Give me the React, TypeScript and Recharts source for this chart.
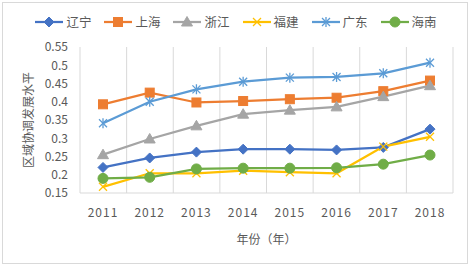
import React from 'react';
import { LineChart, Line, XAxis, YAxis, CartesianGrid, Label } from 'recharts';

const years = ['2011', '2012', '2013', '2014', '2015', '2016', '2017', '2018'];
const liaoning = [0.22, 0.246, 0.262, 0.27, 0.27, 0.268, 0.275, 0.325];
const shanghai = [0.393, 0.425, 0.398, 0.402, 0.407, 0.411, 0.429, 0.458];
const zhejiang = [0.255, 0.298, 0.334, 0.366, 0.377, 0.386, 0.414, 0.444];
const fujian = [0.167, 0.204, 0.204, 0.211, 0.207, 0.204, 0.277, 0.304];
const guangdong = [0.341, 0.4, 0.434, 0.455, 0.466, 0.468, 0.478, 0.507];
const hainan = [0.19, 0.193, 0.216, 0.218, 0.218, 0.219, 0.229, 0.254];
const yTicks = [0.15, 0.2, 0.25, 0.3, 0.35, 0.4, 0.45, 0.5, 0.55];

const series = [
  { key: 'liaoning', name: '辽宁', color: '#4472C4', shape: 'diamond', values: liaoning },
  { key: 'shanghai', name: '上海', color: '#ED7D31', shape: 'square', values: shanghai },
  { key: 'zhejiang', name: '浙江', color: '#A5A5A5', shape: 'triangle', values: zhejiang },
  { key: 'fujian', name: '福建', color: '#FFC000', shape: 'x', values: fujian },
  { key: 'guangdong', name: '广东', color: '#5B9BD5', shape: 'star', values: guangdong },
  { key: 'hainan', name: '海南', color: '#70AD47', shape: 'circle', values: hainan },
];

const data = years.map((y, i) => {
  const row: any = { year: y };
  series.forEach((s) => (row[s.key] = s.values[i]));
  return row;
});

const FONT = '"Noto Sans CJK SC", "Noto Sans", sans-serif';
const TEXT = '#595959';

function Marker({ shape, color, cx, cy }: { shape: string; color: string; cx: number; cy: number }) {
  switch (shape) {
    case 'diamond':
      return <polygon points={`${cx},${cy - 5} ${cx + 5},${cy} ${cx},${cy + 5} ${cx - 5},${cy}`} fill={color} stroke={color} />;
    case 'square':
      return <rect x={cx - 4.5} y={cy - 4.5} width={9} height={9} fill={color} stroke={color} />;
    case 'triangle':
      return <polygon points={`${cx},${cy - 5.5} ${cx + 5.5},${cy + 4} ${cx - 5.5},${cy + 4}`} fill={color} stroke={color} />;
    case 'x':
      return (
        <g stroke={color} strokeWidth={1.3}>
          <line x1={cx - 4} y1={cy - 4} x2={cx + 4} y2={cy + 4} />
          <line x1={cx - 4} y1={cy + 4} x2={cx + 4} y2={cy - 4} />
        </g>
      );
    case 'star':
      return (
        <g stroke={color} strokeWidth={1.3}>
          <line x1={cx - 4} y1={cy - 4} x2={cx + 4} y2={cy + 4} />
          <line x1={cx - 4} y1={cy + 4} x2={cx + 4} y2={cy - 4} />
          <line x1={cx} y1={cy - 5} x2={cx} y2={cy + 5} />
        </g>
      );
    default:
      return <circle cx={cx} cy={cy} r={5} fill={color} stroke={color} />;
  }
}

function makeDot(shape: string, color: string) {
  return (p: any) => {
    if (p.cx == null || p.cy == null) return <g key={p.index} />;
    return (
      <g key={`${shape}-${p.index}`}>
        <Marker shape={shape} color={color} cx={p.cx} cy={p.cy} />
      </g>
    );
  };
}

function LegendBar() {
  return (
    <div
      style={{
        position: 'absolute',
        left: 0,
        top: 14,
        width: 472,
        display: 'flex',
        justifyContent: 'center',
        alignItems: 'center',
        gap: 13,
        fontFamily: FONT,
        fontSize: 12.5,
        color: TEXT,
        lineHeight: '16px',
      }}
    >
      {series.map((s) => (
        <div key={s.key} style={{ display: 'flex', alignItems: 'center' }}>
          <svg width={28} height={12} style={{ marginRight: 3 }}>
            <line x1={0} y1={6} x2={28} y2={6} stroke={s.color} strokeWidth={2.25} />
            <Marker shape={s.shape} color={s.color} cx={14} cy={6} />
          </svg>
          <span>{s.name}</span>
        </div>
      ))}
    </div>
  );
}

export default function App() {
  return (
    <div style={{ position: 'absolute', left: 0, top: 0, width: 472, height: 268, background: '#fff' }}>
      <div
        style={{
          position: 'absolute',
          left: 2,
          top: 2,
          width: 466,
          height: 262,
          border: '1px solid #D9D9D9',
          boxSizing: 'border-box',
        }}
      />
      <div style={{ position: 'absolute', left: 0, top: 0 }}>
        <LineChart width={472} height={268} data={data} margin={{ top: 47, right: 19, left: 0, bottom: 5 }}>
          <CartesianGrid
            horizontal={false}
            vertical={true}
            stroke="#D9D9D9"
            verticalCoordinatesGenerator={(args: any) => {
              const off = args.offset || { left: 80, width: 373 };
              return years.concat(['end']).map((_, i) => off.left + (i * off.width) / years.length);
            }}
          />
          <XAxis
            dataKey="year"
            axisLine={{ stroke: '#D9D9D9' }}
            tickLine={false}
            tickSize={0}
            tickMargin={15}
            height={70}
            padding={{ left: 23, right: 23 }}
            tick={{ fill: TEXT, fontSize: 12, fontFamily: FONT, letterSpacing: 1 }}
            interval={0}
          >
            <Label
              content={(p: any) => {
                const vb = p.viewBox || { x: 80, y: 193, width: 373, height: 70 };
                const cx = vb.x + vb.width / 2;
                const cy = vb.y + 45;
                return (
                  <text x={cx} y={cy} textAnchor="middle" dominantBaseline="central" fill={TEXT} fontSize={12} fontFamily={FONT}>
                    年份（年）
                  </text>
                );
              }}
            />
          </XAxis>
          <YAxis
            type="number"
            domain={[0.15, 0.55]}
            ticks={yTicks}
            interval={0}
            width={80}
            axisLine={false}
            tickLine={false}
            tickSize={0}
            tickMargin={12}
            allowDataOverflow
            tickFormatter={(v: number) => String(Number(v.toFixed(2)))}
            tick={{ fill: TEXT, fontSize: 12, fontFamily: FONT }}
          >
            <Label
              content={(p: any) => {
                const vb = p.viewBox || { x: 0, y: 47, width: 80, height: 146 };
                const cx = vb.x + 27;
                const cy = vb.y + vb.height / 2;
                return (
                  <text
                    x={cx}
                    y={cy}
                    transform={`rotate(-90 ${cx} ${cy})`}
                    textAnchor="middle"
                    dominantBaseline="central"
                    fill={TEXT}
                    fontSize={12}
                    fontFamily={FONT}
                  >
                    区域协调发展水平
                  </text>
                );
              }}
            />
          </YAxis>
          {series.map((s) => (
            <Line
              key={s.key}
              dataKey={s.key}
              name={s.name}
              stroke={s.color}
              strokeWidth={2.25}
              dot={makeDot(s.shape, s.color)}
              activeDot={false}
              isAnimationActive={false}
            />
          ))}
        </LineChart>
      </div>
      <LegendBar />
    </div>
  );
}
